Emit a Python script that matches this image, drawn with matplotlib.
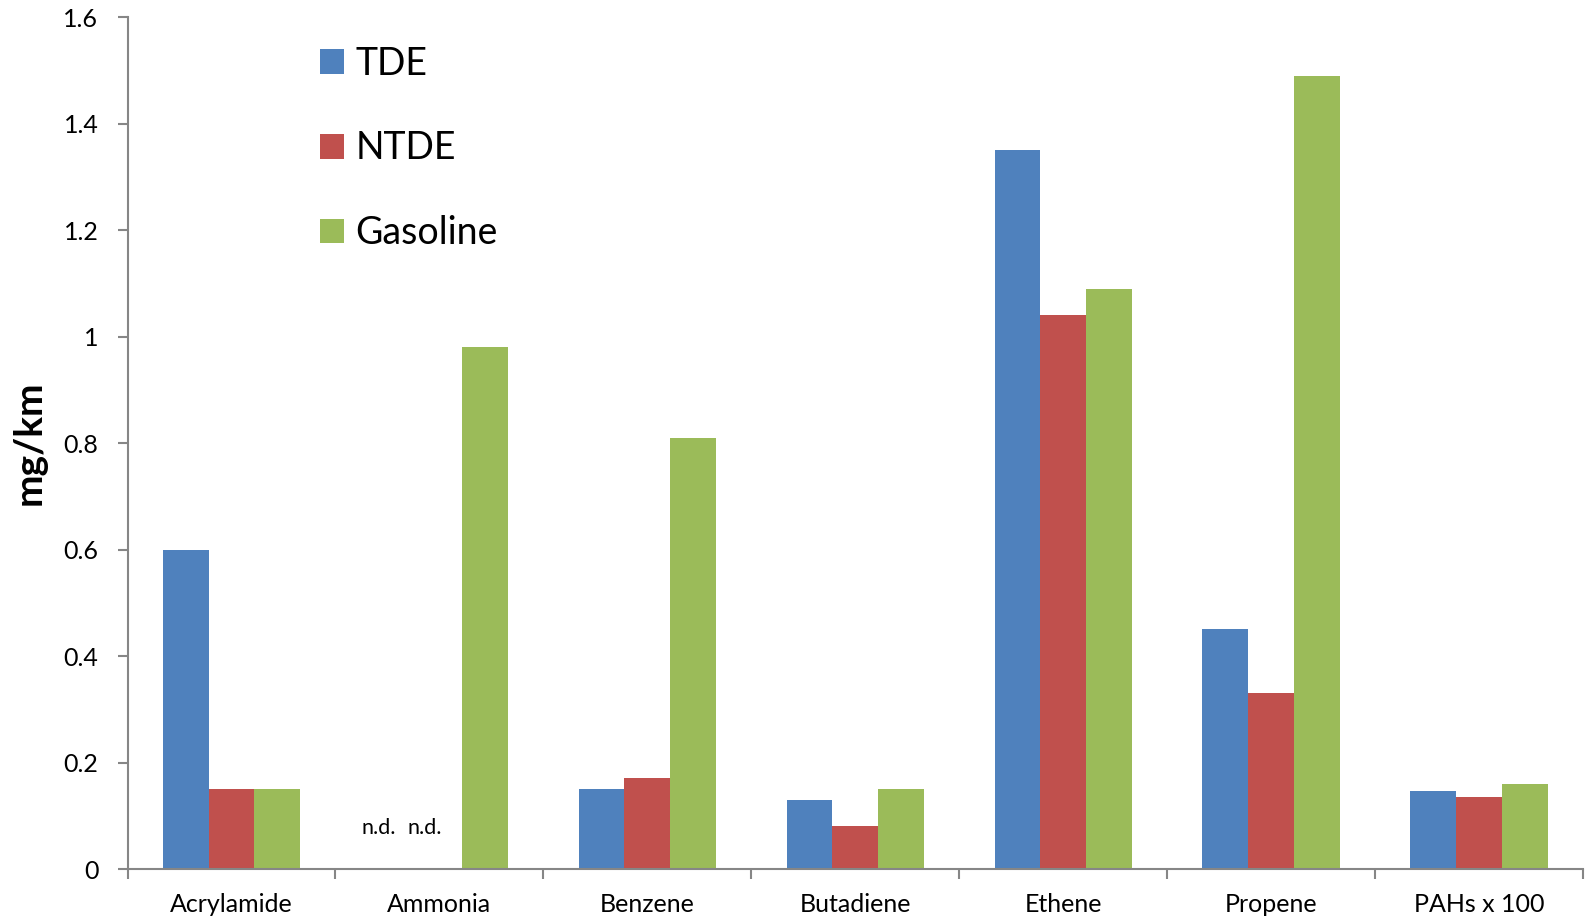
import numpy as np
import matplotlib
matplotlib.use("Agg")
import matplotlib.pyplot as plt

plt.rcParams['font.family'] = ['Lato', 'DejaVu Sans']

categories = ["Acrylamide", "Ammonia", "Benzene", "Butadiene", "Ethene", "Propene", "PAHs x 100"]
tde = [0.60, np.nan, 0.15, 0.13, 1.35, 0.45, 0.147]
ntde = [0.15, np.nan, 0.17, 0.08, 1.04, 0.33, 0.135]
gasoline = [0.15, 0.98, 0.81, 0.15, 1.09, 1.49, 0.16]
series_names = ["TDE", "NTDE", "Gasoline"]
colors = ["#4F81BD", "#C0504D", "#9BBB59"]
yticks = [0, 0.2, 0.4, 0.6, 0.8, 1, 1.2, 1.4, 1.6]
ytick_labels = ["0", "0.2", "0.4", "0.6", "0.8", "1", "1.2", "1.4", "1.6"]

fig = plt.figure(figsize=(15.86, 9.16), dpi=100)
ax = fig.add_axes([0.0804, 0.0513, 0.9177, 0.9301])

x = np.arange(len(categories))
w = 0.22
handles = []
for i, (vals, name, c) in enumerate(zip([tde, ntde, gasoline], series_names, colors)):
    h = ax.bar(x + (i - 1) * w, vals, width=w, color=c, label=name, zorder=2)
    handles.append(h)

# not-detected markers for missing Ammonia values
amm = categories.index("Ammonia")
for i, vals in enumerate([tde, ntde]):
    if np.isnan(vals[amm]):
        ax.text(amm + (i - 1) * w - 0.07, 0.077, "n.d.", ha="center", va="center",
                fontsize=15.5, color="black")

ax.set_xlim(-0.5, len(categories) - 0.5)
ax.set_ylim(0, 1.6)
ax.set_yticks(yticks)
ax.set_yticklabels(ytick_labels, fontsize=18)
ax.set_xticks(x)
ax.set_xticklabels(categories, fontsize=18)
ax.set_xticks(np.arange(-0.5, len(categories)), minor=True)
ax.tick_params(axis="x", which="major", length=0, pad=17)
ax.tick_params(axis="x", which="minor", length=7, width=1.5, color="#868686", direction="out")
ax.tick_params(axis="y", length=7, width=1.5, color="#868686", direction="out", pad=14)

for side in ["top", "right"]:
    ax.spines[side].set_visible(False)
for side in ["left", "bottom"]:
    ax.spines[side].set_color("#868686")
    ax.spines[side].set_linewidth(1.5)

ax.set_ylabel("mg/km", fontsize=28, fontweight="bold", labelpad=12)

ax.legend(handles=handles, loc="upper left", bbox_to_anchor=(0.122, 0.984),
          frameon=False, fontsize=27, handlelength=0.64, handleheight=0.64,
          handletextpad=0.3, labelspacing=1.3, borderaxespad=0)

fig.savefig("out.png", dpi=100)
